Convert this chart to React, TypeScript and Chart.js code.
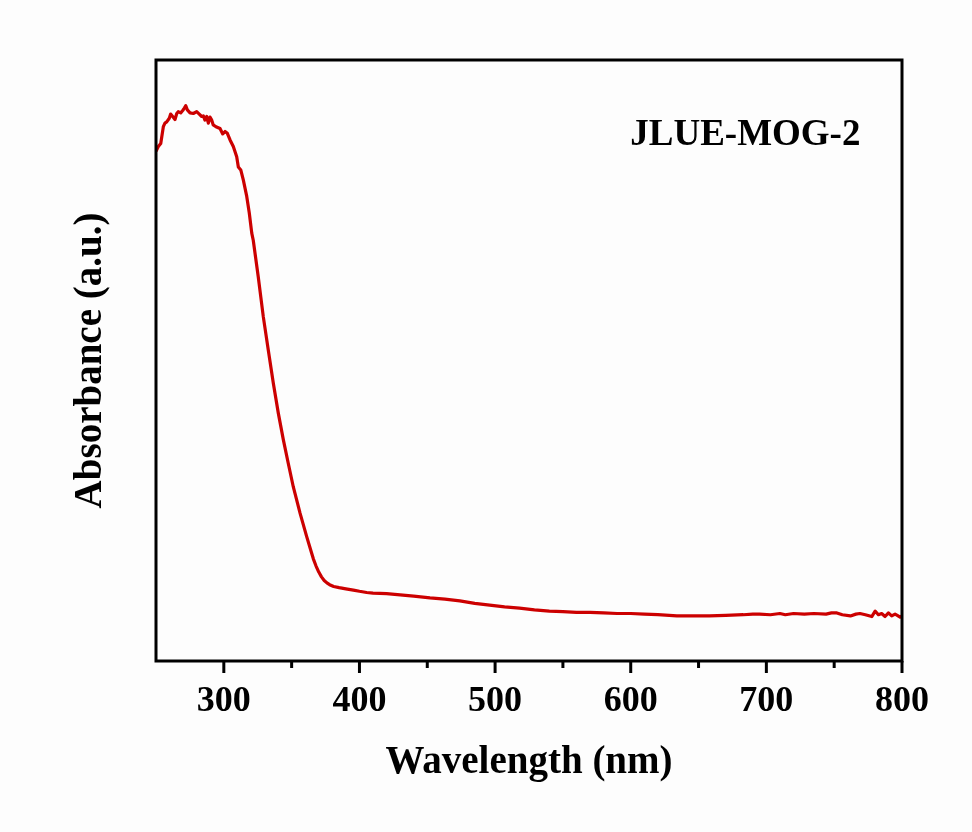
import React, { useEffect, useRef } from "react";
import { Chart, registerables } from "chart.js";

Chart.register(...registerables);

const wavelengths: number[] = [
  250, 251.7, 253.5, 255.4, 256.6, 257.9, 259.8, 260.8, 262.3, 264.0, 265.3, 266.4, 268.2, 269.7,
  270.9, 271.9, 273.1, 275.1, 277.5, 280.0, 281.9, 283.7, 284.9, 286.1, 287.4, 288.6, 289.8, 291.1,
  292.2, 294.2, 297.2, 299.2, 300.9, 302.6, 304.6, 307.0, 309.5, 310.7, 312.5, 314.4, 316.9, 318.8,
  320.6, 321.7, 325.4, 329.1, 332.8, 336.5, 340.2, 343.9, 347.5, 351.2, 356.2, 361.1, 364, 366, 368,
  370, 372, 374, 376, 378, 381, 385, 390, 395.5, 400, 405.3, 410, 420, 430, 440, 452, 463, 474, 485, 496, 507,
  518, 529, 540, 550, 560, 570, 580, 590, 600, 610, 620, 634, 645, 658, 670, 683, 690, 695, 703, 710,
  714, 720, 728, 735, 744, 748, 752, 756, 762, 766, 769, 773, 777.7, 780.2, 782.6, 785, 787.5, 790,
  792.4, 794.9, 796.5, 798.6, 800,
];

const absorbance: number[] = [
  84.8, 85.6, 86.1, 88.9, 89.5, 89.7, 90.3, 91.0, 90.6, 90.1, 91.1, 91.4, 91.2, 91.6,
  92.0, 92.4, 91.7, 91.2, 91.1, 91.4, 91.0, 90.6, 90.7, 90.0, 90.6, 89.5, 90.5, 90.0,
  89.2, 88.9, 88.6, 87.7, 88.1, 87.8, 86.7, 85.6, 83.9, 82.2, 81.7, 80.0, 77.3, 74.5,
  71.2, 70.0, 63.9, 57.3, 51.7, 46.2, 41.2, 36.8, 32.9, 29.0, 24.6, 20.7, 18.5, 17.0, 15.8,
  14.8, 14.0, 13.4, 13.0, 12.7, 12.4, 12.2, 12.0, 11.8, 11.6, 11.4, 11.3, 11.2, 11.0, 10.8, 10.5, 10.3, 10.0, 9.6, 9.3, 9.0,
  8.8, 8.5, 8.3, 8.2, 8.1, 8.1, 8.0, 7.9, 7.9, 7.8, 7.7, 7.5, 7.5, 7.5, 7.6, 7.7, 7.8, 7.8, 7.7, 7.9,
  7.7, 7.9, 7.8, 7.9, 7.8, 8.0, 8.0, 7.7, 7.5, 7.8, 7.9, 7.7, 7.4, 8.3, 7.7, 7.9, 7.4, 8.0,
  7.5, 7.8, 7.6, 7.3, 7.5,
];

const majorTicks: number[] = [300, 400, 500, 600, 700, 800];
const minorTicks: number[] = [350, 450, 550, 650, 750];
const sampleLabel = "JLUE-MOG-2";
const xTitle = "Wavelength (nm)";
const yTitle = "Absorbance (a.u.)";

const FONT = "'Liberation Serif', 'Times New Roman', serif";

export default function App() {
  const ref = useRef<HTMLCanvasElement | null>(null);

  useEffect(() => {
    document.body.style.margin = "0";
    const canvas = ref.current;
    if (!canvas) return;

    const framePlugin = {
      id: "frame",
      beforeDraw(chart: any) {
        const { ctx, width, height } = chart;
        ctx.save();
        ctx.fillStyle = "#fdfdfd";
        ctx.fillRect(0, 0, width, height);
        ctx.restore();
      },
      afterDraw(chart: any) {
        const { ctx, chartArea } = chart;
        const xs = chart.scales.x;
        const { left, right, top, bottom } = chartArea;
        ctx.save();
        ctx.strokeStyle = "#000";
        ctx.lineWidth = 3;
        ctx.lineCap = "square";
        ctx.strokeRect(left, top, right - left, bottom - top);
        ctx.lineCap = "butt";
        majorTicks.forEach((v) => {
          const px = xs.getPixelForValue(v);
          ctx.beginPath();
          ctx.moveTo(px, bottom);
          ctx.lineTo(px, bottom + 12);
          ctx.stroke();
        });
        minorTicks.forEach((v) => {
          const px = xs.getPixelForValue(v);
          ctx.beginPath();
          ctx.moveTo(px, bottom);
          ctx.lineTo(px, bottom + 7);
          ctx.stroke();
        });
        ctx.fillStyle = "#000";
        ctx.font = `bold 37px ${FONT}`;
        ctx.textAlign = "center";
        ctx.textBaseline = "alphabetic";
        ctx.fillText(sampleLabel, left + (right - left) * 0.79, top + 85);
        ctx.restore();
      },
    };

    const chart = new Chart(canvas, {
      type: "scatter",
      data: {
        datasets: [
          {
            data: wavelengths.map((x, i) => ({ x, y: absorbance[i] })),
            showLine: true,
            borderColor: "#cc0000",
            borderWidth: 3.2,
            pointRadius: 0,
            tension: 0,
            borderJoinStyle: "round",
            fill: false,
          },
        ],
      },
      options: {
        animation: false,
        responsive: false,
        maintainAspectRatio: false,
        layout: { padding: { top: 60, right: 70, left: 0, bottom: 0 } },
        plugins: { legend: { display: false }, tooltip: { enabled: false } },
        scales: {
          x: {
            type: "linear",
            min: 250,
            max: 800,
            grid: { display: false, drawTicks: false },
            border: { display: false },
            ticks: {
              stepSize: 50,
              padding: 19,
              color: "#000",
              font: { family: FONT, size: 36, weight: "bold" },
              maxRotation: 0,
              autoSkip: false,
              callback: (v: any) => (majorTicks.includes(Number(v)) ? String(v) : ""),
            },
            title: {
              display: true,
              text: xTitle,
              color: "#000",
              font: { family: FONT, size: 39, weight: "bold" },
              padding: { top: 0, bottom: 46 },
            },
            afterFit: (s: any) => {
              s.height = 171;
            },
          },
          y: {
            type: "linear",
            min: 0,
            max: 100,
            grid: { display: false, drawTicks: false },
            border: { display: false },
            ticks: { display: false },
            title: {
              display: true,
              text: yTitle,
              color: "#000",
              font: { family: FONT, size: 39, weight: "bold" },
              padding: { top: 68, bottom: 0 },
            },
            afterFit: (s: any) => {
              s.width = 156;
            },
          },
        },
      },
      plugins: [framePlugin],
    });

    return () => chart.destroy();
  }, []);

  return (
    <div style={{ position: "fixed", left: 0, top: 0, width: 972, height: 832 }}>
      <canvas ref={ref} width={972} height={832} style={{ display: "block", width: 972, height: 832 }} />
    </div>
  );
}
